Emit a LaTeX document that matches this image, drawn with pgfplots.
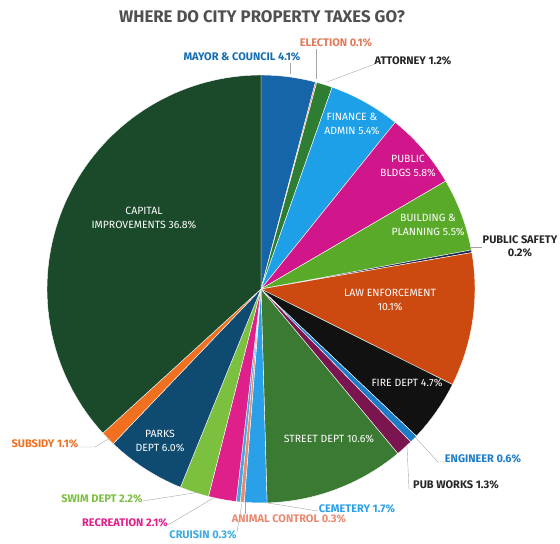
\documentclass[border=0pt]{standalone}
\usepackage{fontspec}
\setmainfont{Fira Sans}
\usepackage{pgfplots}
\pgfplotsset{compat=1.18}

\definecolor{cCapital}{HTML}{1B4A2B}
\definecolor{cMayor}{HTML}{1565A8}
\definecolor{cElection}{HTML}{E07A5A}
\definecolor{cAttorney}{HTML}{2E7D32}
\definecolor{cFinance}{HTML}{1EA0E8}
\definecolor{cPubBldg}{HTML}{D0168A}
\definecolor{cBuild}{HTML}{5AAA2A}
\definecolor{cSafety}{HTML}{1A2A50}
\definecolor{cLaw}{HTML}{CC4A10}
\definecolor{cFire}{HTML}{111111}
\definecolor{cEngineer}{HTML}{1C7CC8}
\definecolor{cPubWorks}{HTML}{7A1550}
\definecolor{cStreet}{HTML}{3B7A32}
\definecolor{cCemetery}{HTML}{2AA0E8}
\definecolor{cAnimal}{HTML}{E88A70}
\definecolor{cCruisin}{HTML}{3AAAE0}
\definecolor{cRecreation}{HTML}{E0208A}
\definecolor{cSwim}{HTML}{7CC040}
\definecolor{cParks}{HTML}{0F4A70}
\definecolor{cSubsidy}{HTML}{F07020}
\definecolor{titlegray}{HTML}{505050}

% pie slice: #1 start (cumulative %), #2 share (%), #3 colour
\newcommand{\slice}[3]{%
  \pgfmathsetmacro\sEnd{#1+#2}%
  \pgfmathtruncatemacro\sN{max(3,2*#2)}%
  \addplot[fill=#3, draw=white, line width=0.4bp, domain=#1:\sEnd, samples=\sN, variable=\t]
    ({261+214*cos(90-3.5964*\t)}, {289-214*sin(90-3.5964*\t)}) -- (axis cs:261,289) -- cycle;
}

\begin{document}
\begin{tikzpicture}
\path[use as bounding box] (0,0) rectangle (560bp,544bp);
\begin{axis}[
    at={(0,0)}, anchor=south west,
    width=560bp, height=544bp, scale only axis,
    hide axis, clip=false,
    xmin=0, xmax=560, ymin=0, ymax=544, y dir=reverse,
]
\slice{0}{4.1}{cMayor}
\slice{4.1}{0.1}{cElection}
\slice{4.2}{1.2}{cAttorney}
\slice{5.4}{5.4}{cFinance}
\slice{10.8}{5.8}{cPubBldg}
\slice{16.6}{5.5}{cBuild}
\slice{22.1}{0.2}{cSafety}
\slice{22.3}{10.1}{cLaw}
\slice{32.4}{4.7}{cFire}
\slice{37.1}{0.6}{cEngineer}
\slice{37.7}{1.3}{cPubWorks}
\slice{39.0}{10.6}{cStreet}
\slice{49.6}{1.7}{cCemetery}
\slice{51.3}{0.3}{cAnimal}
\slice{51.6}{0.3}{cCruisin}
\slice{51.9}{2.1}{cRecreation}
\slice{54.0}{2.2}{cSwim}
\slice{56.2}{6.0}{cParks}
\slice{62.2}{1.1}{cSubsidy}
\slice{63.3}{36.8}{cCapital}

% title
\node[font=\fontsize{16.8bp}{19bp}\selectfont\bfseries, text=titlegray] at (axis cs:262,17)
  {WHERE DO CITY PROPERTY TAXES GO?};

% leader lines
\begin{scope}[gray!70, line width=0.4bp]
\draw (axis cs:290,63) -- (axis cs:290,74);
\draw (axis cs:316,49) -- (axis cs:316,79);
\draw (axis cs:327,82) -- (axis cs:375,64);
\draw (axis cs:470,247) -- (axis cs:482,247);
\draw (axis cs:415,437) -- (axis cs:438,462) -- (axis cs:445,462);
\draw (axis cs:407,446) -- (axis cs:409,489) -- (axis cs:413,489);
\draw (axis cs:268,503) -- (axis cs:318,511);
\draw (axis cs:245,502) -- (axis cs:245,514);
\draw (axis cs:242,503) -- (axis cs:237,532);
\draw (axis cs:215,497) -- (axis cs:168,525);
\draw (axis cs:200,492) -- (axis cs:143,501);
\draw (axis cs:110,438) -- (axis cs:95,447) -- (axis cs:80,447);
\end{scope}

% outside labels
\begin{scope}[every node/.style={font=\fontsize{11bp}{13bp}\selectfont\bfseries, align=center, inner sep=0}]
\node[text=cMayor!85!cFinance] at (axis cs:242,57) {MAYOR \& COUNCIL 4.1\%};
\node[text=cElection] at (axis cs:336,43) {ELECTION 0.1\%};
\node[text=black!85] at (axis cs:413,61) {ATTORNEY 1.2\%};
\node[text=black!85] at (axis cs:520,246) {PUBLIC SAFETY\\0.2\%};
\node[text=cEngineer] at (axis cs:483,459) {ENGINEER 0.6\%};
\node[text=black!85] at (axis cs:456,485) {PUB WORKS 1.3\%};
\node[text=cCemetery] at (axis cs:357,509) {CEMETERY 1.7\%};
\node[text=cAnimal] at (axis cs:289,519) {ANIMAL CONTROL 0.3\%};
\node[text=cCruisin] at (axis cs:203,535) {CRUISIN 0.3\%};
\node[text=cRecreation] at (axis cs:125,523) {RECREATION 2.1\%};
\node[text=cSwim] at (axis cs:102,499) {SWIM DEPT 2.2\%};
\node[text=cSubsidy] at (axis cs:45,444) {SUBSIDY 1.1\%};
\end{scope}

% inside labels
\begin{scope}[every node/.style={font=\fontsize{10.5bp}{14bp}\selectfont, text=white, align=center, inner sep=0}]
\node at (axis cs:352,124) {FINANCE \&\\ADMIN 5.4\%};
\node at (axis cs:408,166) {PUBLIC\\BLDGS 5.8\%};
\node at (axis cs:428,225) {BUILDING \&\\PLANNING 5.5\%};
\node at (axis cs:390,300) {LAW ENFORCEMENT\\10.1\%};
\node at (axis cs:407,383) {FIRE DEPT 4.7\%};
\node at (axis cs:329,439) {STREET DEPT 10.6\%};
\node at (axis cs:160,441) {PARKS\\DEPT 6.0\%};
\node at (axis cs:144,218) {CAPITAL\\IMPROVEMENTS 36.8\%};
\end{scope}
\end{axis}
\end{tikzpicture}
\end{document}
